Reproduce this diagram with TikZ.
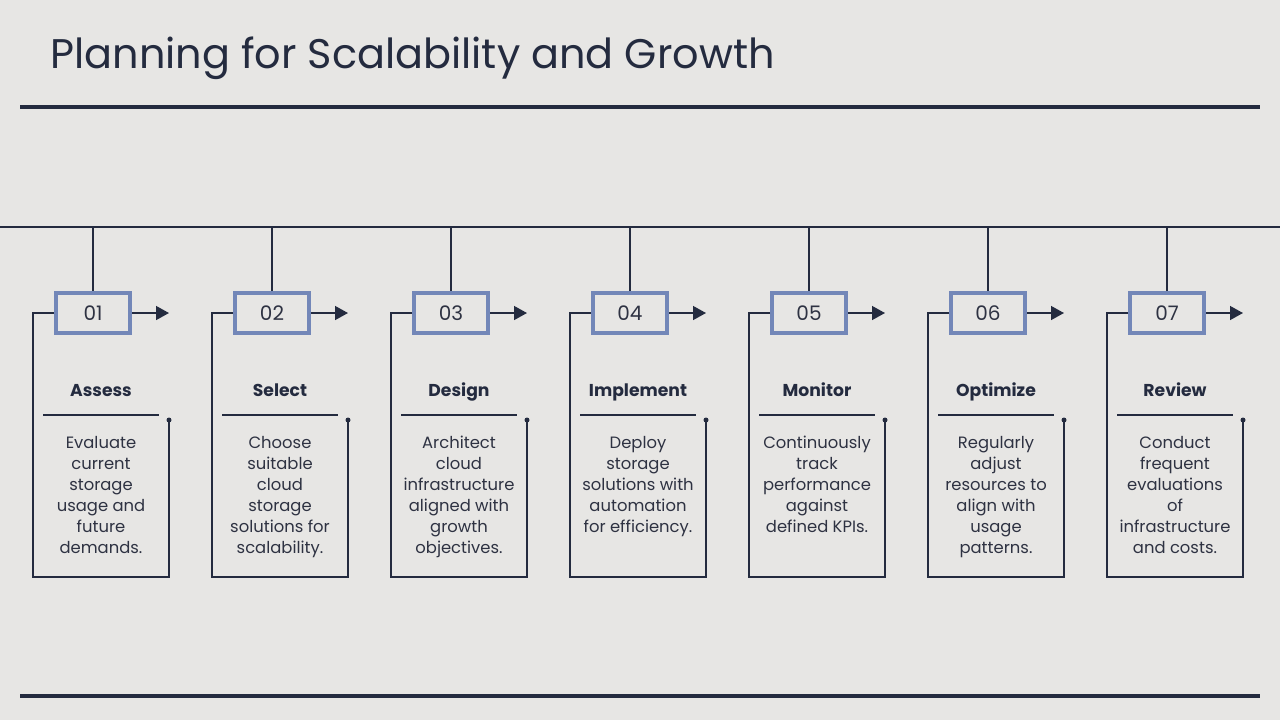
\documentclass[tikz,border=0pt]{standalone}
\usepackage{fontspec}
\setmainfont{Poppins}
\usetikzlibrary{arrows.meta}
\definecolor{bgcol}{HTML}{E7E6E4}
\definecolor{navy}{HTML}{242B3F}
\definecolor{stepblue}{HTML}{7387B8}
\definecolor{inkcol}{HTML}{2E3242}
\tikzset{
  numbox/.style={draw=stepblue, line width=2pt, minimum width=37pt, minimum height=20pt,
    inner sep=0pt, text=inkcol, font=\fontsize{10}{12}\selectfont},
  head/.style={text=navy, anchor=base, font=\bfseries\fontsize{8.6}{10}\selectfont, inner sep=0pt},
  desc/.style={text=inkcol, align=center, anchor=north, inner sep=0pt,
    font=\fontsize{8.2}{10.5}\selectfont},
  link/.style={draw=navy, line width=0.7pt},
  arr/.style={link, -{Triangle[length=6.5pt,width=7pt]}},
  rule/.style={draw=navy, line width=2pt},
}
\begin{document}
\begin{tikzpicture}[x=0.5pt, y=-0.5pt]
   \fill[bgcol] (0,0) rectangle (1280,720);
   \useasboundingbox (0,0) rectangle (1280,720);
   % title and rules
   \node[anchor=base west, text=navy, inner sep=0pt, font=\fontsize{20.7}{24}\selectfont] (title) at (50,68) {Planning for Scalability and Growth};
   \coordinate (topA) at (20,107);
   \coordinate (topB) at (1260,107);
   \coordinate (botA) at (20,696);
   \coordinate (botB) at (1260,696);
   \draw[rule] (topA) -- (topB);
   \draw[rule] (botA) -- (botB);
   \coordinate (lineA) at (0,227);
   \coordinate (lineB) at (1280,227);
   \draw[link] (lineA) -- (lineB);
   % step 01
   \node[numbox] (n1) at (93,313) {01};
   \coordinate (t1) at (93,227);
   \coordinate (a1) at (169,313);
   \coordinate (c1) at (33,577);
   \coordinate (r1) at (169,420);
   \draw[link] (t1) -- (n1);
   \draw[arr] (n1) -- (a1);
   \draw[link] (n1.west) -| (c1) -| (r1);
   \fill[navy] (r1) circle (2.5);
   \node[head] (h1) at (101,396) {Assess};
   \coordinate (s1a) at (43,415);
   \coordinate (s1b) at (159,415);
   \draw[link] (s1a) -- (s1b);
   \node[desc] (d1) at (101,436) {Evaluate\\current\\storage\\usage and\\future\\demands.};
   % step 02
   \node[numbox] (n2) at (272,313) {02};
   \coordinate (t2) at (272,227);
   \coordinate (a2) at (348,313);
   \coordinate (c2) at (212,577);
   \coordinate (r2) at (348,420);
   \draw[link] (t2) -- (n2);
   \draw[arr] (n2) -- (a2);
   \draw[link] (n2.west) -| (c2) -| (r2);
   \fill[navy] (r2) circle (2.5);
   \node[head] (h2) at (280,396) {Select};
   \coordinate (s2a) at (222,415);
   \coordinate (s2b) at (338,415);
   \draw[link] (s2a) -- (s2b);
   \node[desc] (d2) at (280,436) {Choose\\suitable\\cloud\\storage\\solutions for\\scalability.};
   % step 03
   \node[numbox] (n3) at (451,313) {03};
   \coordinate (t3) at (451,227);
   \coordinate (a3) at (527,313);
   \coordinate (c3) at (391,577);
   \coordinate (r3) at (527,420);
   \draw[link] (t3) -- (n3);
   \draw[arr] (n3) -- (a3);
   \draw[link] (n3.west) -| (c3) -| (r3);
   \fill[navy] (r3) circle (2.5);
   \node[head] (h3) at (459,396) {Design};
   \coordinate (s3a) at (401,415);
   \coordinate (s3b) at (517,415);
   \draw[link] (s3a) -- (s3b);
   \node[desc] (d3) at (459,436) {Architect\\cloud\\infrastructure\\aligned with\\growth\\objectives.};
   % step 04
   \node[numbox] (n4) at (630,313) {04};
   \coordinate (t4) at (630,227);
   \coordinate (a4) at (706,313);
   \coordinate (c4) at (570,577);
   \coordinate (r4) at (706,420);
   \draw[link] (t4) -- (n4);
   \draw[arr] (n4) -- (a4);
   \draw[link] (n4.west) -| (c4) -| (r4);
   \fill[navy] (r4) circle (2.5);
   \node[head] (h4) at (638,396) {Implement};
   \coordinate (s4a) at (580,415);
   \coordinate (s4b) at (696,415);
   \draw[link] (s4a) -- (s4b);
   \node[desc] (d4) at (638,436) {Deploy\\storage\\solutions with\\automation\\for efficiency.};
   % step 05
   \node[numbox] (n5) at (809,313) {05};
   \coordinate (t5) at (809,227);
   \coordinate (a5) at (885,313);
   \coordinate (c5) at (749,577);
   \coordinate (r5) at (885,420);
   \draw[link] (t5) -- (n5);
   \draw[arr] (n5) -- (a5);
   \draw[link] (n5.west) -| (c5) -| (r5);
   \fill[navy] (r5) circle (2.5);
   \node[head] (h5) at (817,396) {Monitor};
   \coordinate (s5a) at (759,415);
   \coordinate (s5b) at (875,415);
   \draw[link] (s5a) -- (s5b);
   \node[desc] (d5) at (817,436) {Continuously\\track\\performance\\against\\defined KPIs.};
   % step 06
   \node[numbox] (n6) at (988,313) {06};
   \coordinate (t6) at (988,227);
   \coordinate (a6) at (1064,313);
   \coordinate (c6) at (928,577);
   \coordinate (r6) at (1064,420);
   \draw[link] (t6) -- (n6);
   \draw[arr] (n6) -- (a6);
   \draw[link] (n6.west) -| (c6) -| (r6);
   \fill[navy] (r6) circle (2.5);
   \node[head] (h6) at (996,396) {Optimize};
   \coordinate (s6a) at (938,415);
   \coordinate (s6b) at (1054,415);
   \draw[link] (s6a) -- (s6b);
   \node[desc] (d6) at (996,436) {Regularly\\adjust\\resources to\\align with\\usage\\patterns.};
   % step 07
   \node[numbox] (n7) at (1167,313) {07};
   \coordinate (t7) at (1167,227);
   \coordinate (a7) at (1243,313);
   \coordinate (c7) at (1107,577);
   \coordinate (r7) at (1243,420);
   \draw[link] (t7) -- (n7);
   \draw[arr] (n7) -- (a7);
   \draw[link] (n7.west) -| (c7) -| (r7);
   \fill[navy] (r7) circle (2.5);
   \node[head] (h7) at (1175,396) {Review};
   \coordinate (s7a) at (1117,415);
   \coordinate (s7b) at (1233,415);
   \draw[link] (s7a) -- (s7b);
   \node[desc] (d7) at (1175,436) {Conduct\\frequent\\evaluations\\of\\infrastructure\\and costs.};
\end{tikzpicture}
\end{document}
